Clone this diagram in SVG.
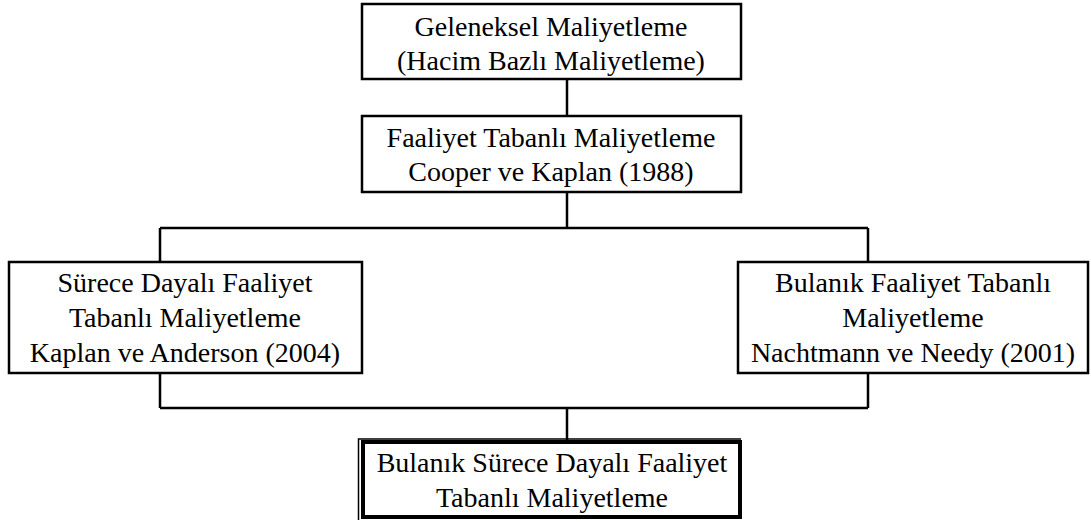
<svg xmlns="http://www.w3.org/2000/svg" width="1091" height="525" viewBox="0 0 1091 525">
<style>
.box{fill:#fff;stroke:#000;stroke-width:2.5}
.thick{fill:#fff;stroke:#000;stroke-width:4}
.thin{fill:none;stroke:#000;stroke-width:1.5}
.conn{fill:none;stroke:#000;stroke-width:2.5}
.t{font-family:'Liberation Serif','Times New Roman',Times,'DejaVu Serif',serif;font-size:28px;fill:#000;text-anchor:middle}
</style>
<rect width="1091" height="525" fill="#fff"/>
<g id="connectors">
<path class="conn" d="M567,79 V116"/>
<path class="conn" d="M567,192 V228"/>
<path class="conn" d="M160,228 H868 M160,228 V262 M868,228 V262"/>
<path class="conn" d="M160,373 V408 M868,373 V408 M160,408 H868"/>
<path class="conn" d="M567,408 V442"/>
</g>
<g id="n1">
<rect class="box" x="362" y="4" width="379" height="75"/>
<text class="t" x="551" y="36">Geleneksel Maliyetleme</text>
<text class="t" x="551" y="70">(Hacim Bazlı Maliyetleme)</text>
</g>
<g id="n2">
<rect class="box" x="362" y="116" width="379" height="76"/>
<text class="t" x="551" y="147">Faaliyet Tabanlı Maliyetleme</text>
<text class="t" x="551" y="181">Cooper ve Kaplan (1988)</text>
</g>
<g id="n3">
<rect class="box" x="9" y="262" width="353" height="111"/>
<text class="t" x="185" y="292">Sürece Dayalı Faaliyet</text>
<text class="t" x="185" y="327">Tabanlı Maliyetleme</text>
<text class="t" x="185" y="362">Kaplan ve Anderson (2004)</text>
</g>
<g id="n4">
<rect class="box" x="738" y="262" width="350" height="111"/>
<text class="t" x="913" y="292">Bulanık Faaliyet Tabanlı</text>
<text class="t" x="913" y="327">Maliyetleme</text>
<text class="t" x="913" y="362">Nachtmann ve Needy (2001)</text>
</g>
<g id="n5">
<rect class="thick" x="363" y="442" width="377" height="75"/>
<path class="thin" d="M358.5,520 V439 H741"/>
<text class="t" x="552" y="472">Bulanık Sürece Dayalı Faaliyet</text>
<text class="t" x="552" y="507">Tabanlı Maliyetleme</text>
</g>
</svg>
